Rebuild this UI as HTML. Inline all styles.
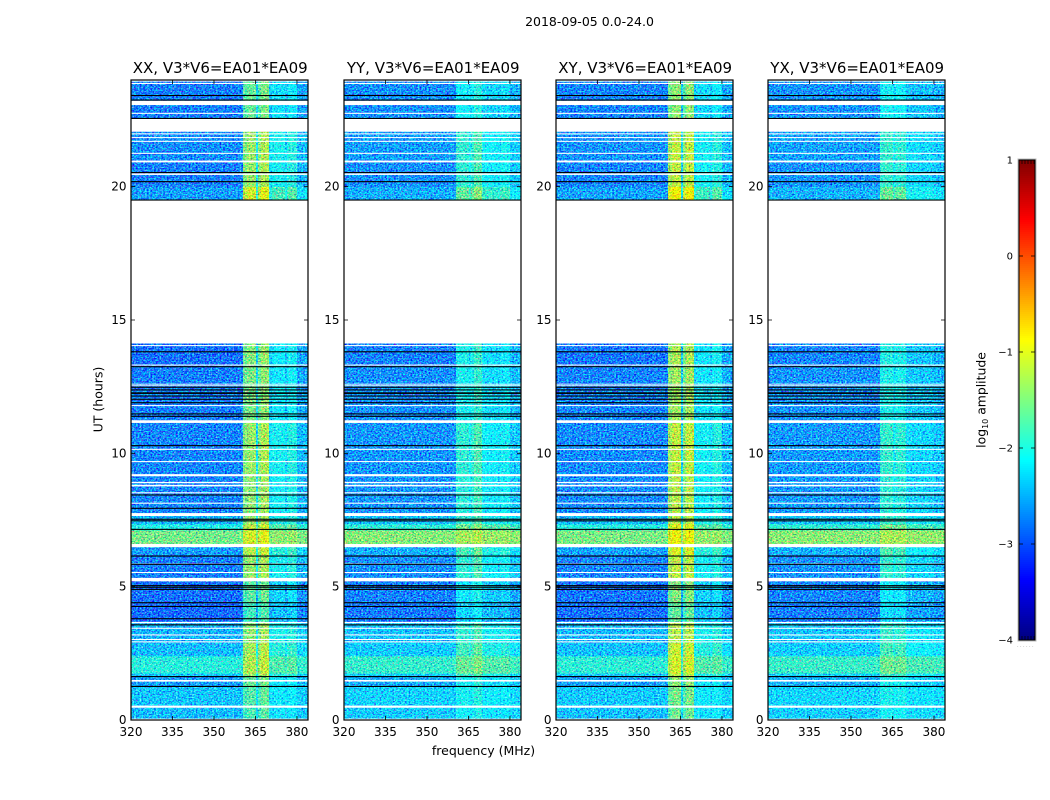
<!DOCTYPE html>
<html>
<head>
<meta charset="utf-8">
<title>2018-09-05 0.0-24.0</title>
<style>
html,body{margin:0;padding:0;background:#fff;}
svg{display:block;font-family:"DejaVu Sans","Liberation Sans",sans-serif;}
</style>
</head>
<body>
<svg id="chart" xmlns="http://www.w3.org/2000/svg" width="1050" height="800" viewBox="0 0 1050 800">
<defs>
<filter id="speck" x="0" y="0" width="1" height="1" color-interpolation-filters="sRGB">
<feTurbulence type="fractalNoise" baseFrequency="0.55 0.7" numOctaves="2" seed="7" result="n"/>
<feColorMatrix in="n" type="matrix" values="1 0 0 0 0 0 1 0 0 0 0 0 0.3 0 0.35 0 0 0 0 1" result="g"/>
<feComposite in="SourceGraphic" in2="g" operator="arithmetic" k1="0" k2="1" k3="1.8" k4="-0.9" result="m"/>
<feComposite in="m" in2="SourceAlpha" operator="in"/>
</filter>
</defs>
<text x="589.5" y="26" font-size="12.5" text-anchor="middle" fill="#000">2018-09-05 0.0-24.0</text>
<text transform="translate(102.5,399.5) rotate(-90)" font-size="12.5" text-anchor="middle" fill="#000">UT (hours)</text>
<text x="483.5" y="755" font-size="12.5" text-anchor="middle" fill="#000">frequency (MHz)</text>
<g id="panels"></g>
<g id="colorbar"></g>
<text transform="translate(985.5,400) rotate(-90)" font-size="12.4" text-anchor="middle" fill="#000">log<tspan font-size="8" dy="2.5">10</tspan><tspan dy="-2.5"> amplitude</tspan></text>
</svg>
<script>
// ---- chart data (hours, MHz, log10 amplitude) ----
const panelTitles = ["XX, V3*V6=EA01*EA09","YY, V3*V6=EA01*EA09","XY, V3*V6=EA01*EA09","YX, V3*V6=EA01*EA09"];
const freqTicks = [320,335,350,365,380];
const timeTicks = [0,5,10,15,20];
const colorbarTicks = [1,0,-1,-2,-3,-4];
const freqEdges = [320,360.5,362,365.2,365.9,367,369.9,371,375.7,376.5,380,384];
const xxColumns = [-9,-1.45,-1.35,-2.3,-1.45,-1.25,-2.35,-2.1,-2.45,-2.0,-2.75];
const yyColumns = [-9,-1.95,-1.95,-2.2,-1.95,-1.75,-2.2,-2.25,-2.4,-2.15,-2.65];
const xyColumns = [-9,-1.3,-1.15,-2.5,-1.4,-1.15,-2.3,-2.15,-2.4,-2.0,-2.75];
const yxColumns = [-9,-1.95,-1.9,-2.2,-2.0,-1.95,-2.45,-2.5,-2.6,-2.5,-2.75];
const panelColumns = [xxColumns,yyColumns,xyColumns,yxColumns];
const panelOffsets = [0,0.08,0.03,0.1];
const bandStart = [0,0.5,1.25,1.65,1.75,2.4,2.9,3.65,4.4,5.3,6.2,6.55,7.12,7.35,7.75,9.2,11.2,13.3,19.5,20.0,21.0,22.55];
const bandEnd   = [0.5,1.25,1.65,1.75,2.4,2.9,3.65,4.4,5.3,6.2,6.55,7.12,7.35,7.75,9.2,11.2,13.3,14.12,20.0,21.0,22.55,24];
const bandLevel = [-2.45,-2.4,-2.6,-2.4,-1.95,-2.45,-2.5,-2.85,-2.82,-2.75,-2.6,-1.55,-2.0,-2.5,-2.72,-2.72,-2.75,-2.82,-2.6,-2.75,-2.68,-2.75];
const bandRfi   = [-0.5,-0.45,-0.3,-0.1,0.0,0.0,-0.1,-0.5,-0.35,-0.05,0.1,0.1,0.1,-0.1,-0.1,-0.05,-0.2,-0.15,0.25,-0.05,-0.05,-0.3];
const flagStart = [0,0.46,1.44,2.91,3.0,3.17,3.42,3.63,5.2,5.51,5.83,6.48,7.65,8.11,8.5,8.76,8.88,9.14,9.67,10.13,11.14,11.77,12.52,12.58,13.29,14.02,14.12,20.44,20.91,21.23,21.68,21.82,21.96,22.06,22.73,23.06,23.85,23.94];
const flagEnd   = [0.05,0.54,1.5,2.95,3.04,3.21,3.46,3.68,5.33,5.55,5.87,6.6,7.76,8.15,8.54,8.82,8.93,9.22,9.71,10.17,11.24,11.81,12.55,12.61,13.33,14.06,19.5,20.5,20.98,21.27,21.72,21.86,22.0,22.54,22.77,23.22,23.89,23.98];
const blackLines = [1.26,1.63,3.57,3.8,4.26,4.4,4.9,4.98,5.04,5.84,6.15,7.15,7.47,7.53,7.94,8.44,10.29,11.39,11.48,11.9,12.03,12.15,12.25,12.27,12.38,12.48,13.25,13.81,19.5,20.19,20.53,22.56,23.25,23.42];

const SVG_NS = "http://www.w3.org/2000/svg";
const panelLeft = [131,344,556,768];
const panelWidth = 177, plotTop = 80, plotBottom = 720;
const cbLeft = 1019, cbRight = 1035, cbTop = 160, cbBottom = 640;

function xScale(f, i){ return panelLeft[i] + (f - 320) / 64 * panelWidth; }
function yScale(h){ return plotBottom - h / 24 * (plotBottom - plotTop); }
function cbScale(v){ return cbBottom - (v + 4) / 5 * (cbBottom - cbTop); }
function jet(t){
  const c = x => Math.round(255 * Math.max(0, Math.min(1, x)));
  return "rgb(" + c(1.5 - Math.abs(4 * t - 3)) + "," + c(1.5 - Math.abs(4 * t - 2)) + "," + c(1.5 - Math.abs(4 * t - 1)) + ")";
}
function colorOf(v){ return jet((v + 4) / 5); }
function make(parent, tag, attrs, text){
  const el = document.createElementNS(SVG_NS, tag);
  for (const k in attrs) el.setAttribute(k, attrs[k]);
  if (text !== undefined) el.textContent = text;
  parent.appendChild(el);
  return el;
}
function cellValue(p, c, b){
  const bg = bandLevel[b] + panelOffsets[p];
  const rfi = panelColumns[p][c] + bandRfi[b];
  return Math.log10(Math.pow(10, bg) + Math.pow(10, rfi));
}

const panelsRoot = document.getElementById("panels");
panelTitles.forEach(function(title, p){
  const g = make(panelsRoot, "g", {});
  
  

  const hm = make(g, "g", {filter: "url(#speck)"});
  
  
  bandStart.forEach(function(start, b){
    const yTop = yScale(bandEnd[b]), yBot = yScale(start);
    for (let c = 0; c < freqEdges.length - 1; c++){
      const x0 = xScale(freqEdges[c], p), x1 = xScale(freqEdges[c + 1], p);
      const cell = make(hm, "rect", {x: x0, y: yTop, width: x1 - x0 + 0.3, height: yBot - yTop + 0.3, fill: colorOf(cellValue(p, c, b))});
      
      
    }
  });

  flagStart.forEach(function(start, k){
    const gap = make(g, "rect", {x: xScale(320, p), y: yScale(flagEnd[k]), width: panelWidth, height: yScale(start) - yScale(flagEnd[k]), fill: "#fff"});
    
    
  });
  blackLines.forEach(function(h){
    const line = make(g, "rect", {x: xScale(320, p), y: yScale(h) - 0.5, width: panelWidth, height: 1.1, fill: "#000"});
    
    
  });

  const frame = make(g, "rect", {x: xScale(320, p), y: plotTop, width: panelWidth, height: plotBottom - plotTop, fill: "none", stroke: "#000", "stroke-width": 1.2});
  
  

  const t = make(g, "text", {x: xScale(320, p) + panelWidth / 2 + 0.7, y: 73, "font-size": 15, "text-anchor": "middle", fill: "#000"}, title);
  
  

  freqTicks.forEach(function(f){
    const x = xScale(f, p);
    const tick = make(g, "path", {d: "M" + x + " " + plotBottom + "v-4M" + x + " " + plotTop + "v4", stroke: "#000", "stroke-width": 0.8, fill: "none"});
    
    
    const lab = make(g, "text", {x: x, y: 736, "font-size": 12, "text-anchor": "middle", fill: "#000"}, String(f));
    
    
  });
  timeTicks.forEach(function(h){
    const y = yScale(h), x0 = xScale(320, p), x1 = x0 + panelWidth;
    const tick = make(g, "path", {d: "M" + x0 + " " + y + "h4M" + x1 + " " + y + "h-4", stroke: "#000", "stroke-width": 0.8, fill: "none"});
    
    
    const lab = make(g, "text", {x: x0 - 4.5, y: y + 4, "font-size": 12, "text-anchor": "end", fill: "#000"}, String(h));
    
    
  });
});

// colorbar
const cb = document.getElementById("colorbar");
const cbOuter = make(cb, "rect", {x: cbLeft - 1, y: cbTop - 1, width: cbRight - cbLeft + 2, height: cbBottom - cbTop + 2, fill: "none", stroke: "#bbb", "stroke-width": 1});


for (let py = cbTop; py < cbBottom; py += 2){
  const v = 1 - (py + 1 - cbTop) / (cbBottom - cbTop) * 5;
  const seg = make(cb, "rect", {x: cbLeft, y: py, width: cbRight - cbLeft, height: 2.2, fill: colorOf(v)});
  
  
}
const cbFrame = make(cb, "rect", {x: cbLeft, y: cbTop, width: cbRight - cbLeft, height: cbBottom - cbTop, fill: "none", stroke: "#000", "stroke-width": 1});


colorbarTicks.forEach(function(v){
  const y = cbScale(v);
  const tick = make(cb, "path", {d: "M" + cbLeft + " " + y + "h4M" + cbRight + " " + y + "h-4", stroke: "#000", "stroke-width": 0.8, fill: "none"});
  
  
  const lab = make(cb, "text", {x: 1013, y: y + 3.5, "font-size": 10, "text-anchor": "end", fill: "#000"}, String(v).replace("-", "\u2212"));
  
  
});
const cbMinorX = [1022,1025,1028,1031,1034];
cbMinorX.forEach(function(x){
  const tick = make(cb, "path", {d: "M" + x + " " + cbTop + "v4M" + x + " " + cbBottom + "v-4", stroke: "#000", "stroke-width": 0.7, fill: "none"});
  
  
});
const dots = make(cb, "text", {x: 1026, y: 647, "font-size": 5, "text-anchor": "middle", fill: "#888", "letter-spacing": "1.4"}, "......");


</script>
</body>
</html>
